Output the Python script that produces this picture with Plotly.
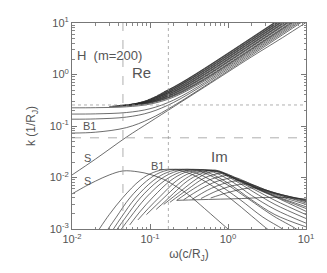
import plotly.graph_objects as go

# ---------------- data ----------------
# Real part. Low branches span the full range on a common frequency grid.
re_omega = [0.01, 0.02, 0.05, 0.1, 0.2, 0.5, 1, 2, 5, 10]
re_S  = [0.0112, 0.0228, 0.061, 0.12, 0.235, 0.57, 1.12, 2.2, 5.2, 10.2]
re_B1 = [0.073, 0.0758, 0.0931, 0.1382, 0.2468, 0.5944, 1.182, 2.36, 5.9, 11.8]
re_2  = [0.1356, 0.1373, 0.149, 0.1847, 0.2859, 0.6443, 1.267, 2.524, 6.3, 12.6]
re_3  = [0.1705, 0.1721, 0.1827, 0.2165, 0.3174, 0.6912, 1.351, 2.686, 6.7, 13.4]
re_4  = [0.2255, 0.2268, 0.2359, 0.2661, 0.3623, 0.7448, 1.4377, 2.85, 7.1, 14.2]

# Higher branches emerge part-way along the frequency axis
re_5_w   = [0.03, 0.05, 0.1, 0.2, 0.5, 1, 2, 5, 10]
re_5_k   = [0.2393, 0.2467, 0.2788, 0.3811, 0.786, 1.518, 3.01, 7.5, 15]
re_5b_w  = [0.033, 0.05, 0.1, 0.2, 0.5, 1, 2, 5, 10]
re_5b_k  = [0.2434, 0.2503, 0.284, 0.3908, 0.8107, 1.568, 3.108, 7.75, 15.5]
re_6_w   = [0.036, 0.05, 0.1, 0.2, 0.5, 1, 2, 5, 10]
re_6_k   = [0.2468, 0.253, 0.2884, 0.4, 0.8352, 1.618, 3.21, 8.0, 16]
re_7_w   = [0.04, 0.1, 0.2, 0.5, 1, 2, 5, 10]
re_7_k   = [0.2494, 0.2941, 0.4162, 0.8832, 1.7169, 3.41, 8.5, 17]
re_7b_w  = [0.044, 0.1, 0.2, 0.5, 1, 2, 5, 10]
re_7b_k  = [0.252, 0.297, 0.4244, 0.9073, 1.766, 3.508, 8.75, 17.5]
re_8_w   = [0.048, 0.1, 0.2, 0.5, 1, 2, 5, 10]
re_8_k   = [0.2551, 0.3, 0.4327, 0.9315, 1.816, 3.61, 9.0, 18]
re_9_w   = [0.053, 0.1, 0.2, 0.5, 1, 2, 5, 10]
re_9_k   = [0.2603, 0.3061, 0.4494, 0.9798, 1.914, 3.81, 9.5, 19]
re_9b_w  = [0.058, 0.1, 0.2, 0.5, 1, 2, 5, 10]
re_9b_k  = [0.2653, 0.3092, 0.4579, 1.0041, 1.9642, 3.907, 9.75, 19.5]
re_10_w  = [0.064, 0.1, 0.2, 0.5, 1, 2, 5, 10]
re_10_k  = [0.272, 0.3124, 0.4665, 1.0284, 2.014, 4.007, 10.0, 20]
re_11_w  = [0.07, 0.1, 0.2, 0.5, 1, 2, 5, 10]
re_11_k  = [0.2814, 0.3189, 0.4837, 1.0771, 2.1134, 4.207, 10.5, 21]
re_11b_w = [0.077, 0.1, 0.2, 0.5, 1, 2, 5, 10]
re_11b_k = [0.2916, 0.3222, 0.4924, 1.1015, 2.1634, 4.307, 10.75, 21.5]
re_12_w  = [0.085, 0.14, 0.2, 0.5, 1, 2, 5, 10]
re_12_k  = [0.3043, 0.3905, 0.5012, 1.1259, 2.213, 4.407, 11.0, 22]
re_13_w  = [0.094, 0.14, 0.2, 0.5, 1, 2, 5, 10]
re_13_k  = [0.323, 0.4016, 0.5188, 1.1748, 2.3127, 4.606, 11.5, 23]
re_13b_w = [0.103, 0.15, 0.2, 0.5, 1, 2, 5, 10]
re_13b_k = [0.3409, 0.4264, 0.5277, 1.1993, 2.3625, 4.706, 11.75, 23.5]
re_14_w  = [0.113, 0.16, 0.25, 0.5, 1, 2, 5, 10]
re_14_k  = [0.3621, 0.4528, 0.6462, 1.2238, 2.4124, 4.806, 12.0, 24]
re_15_w  = [0.124, 0.17, 0.25, 0.5, 1, 2, 5, 10]
re_15_k  = [0.392, 0.4881, 0.6695, 1.2728, 2.512, 5.006, 12.5, 25]
re_15b_w = [0.137, 0.18, 0.26, 0.5, 1, 2, 5, 10]
re_15b_k = [0.4238, 0.518, 0.7051, 1.2974, 2.562, 5.106, 12.75, 25.5]
re_16_w  = [0.15, 0.2, 0.3, 0.5, 1, 2, 5, 10]
re_16_k  = [0.4579, 0.5727, 0.8161, 1.322, 2.6118, 5.206, 13.0, 26]

# Imaginary part: each branch has its own frequency samples
im_S_w  = [0.01, 0.015, 0.02, 0.03, 0.045, 0.07, 0.1, 0.15, 0.2, 0.3, 0.5, 0.7, 1.0, 1.2]
im_S_k  = [0.0048, 0.0068, 0.0085, 0.0112, 0.0134, 0.0129, 0.0115, 0.0092, 0.0072, 0.0048, 0.0025, 0.0016, 0.001, 0.0008]
im_B1_w = [0.0224, 0.03, 0.045, 0.075, 0.11, 0.17, 0.3, 0.55, 1.1, 2.0, 3.2, 4.0]
im_B1_k = [0.001, 0.0019, 0.0041, 0.0089, 0.0125, 0.0145, 0.0125, 0.0078, 0.0038, 0.0018, 0.001, 0.0008]
im_2_w  = [0.029, 0.037, 0.055, 0.09, 0.135, 0.21, 0.37, 0.7, 1.4, 2.8, 5.0, 6.0]
im_2_k  = [0.001, 0.0017, 0.004, 0.0085, 0.0125, 0.0145, 0.0126, 0.0078, 0.0038, 0.0017, 0.001, 0.0008]
im_3_w  = [0.034, 0.043, 0.065, 0.11, 0.165, 0.26, 0.46, 0.9, 1.8, 3.8, 7.5, 9.0]
im_3_k  = [0.001, 0.0017, 0.004, 0.0087, 0.0125, 0.0145, 0.0127, 0.0078, 0.0039, 0.0018, 0.001, 0.0008]
im_4_w  = [0.038, 0.049, 0.075, 0.13, 0.2, 0.31, 0.55, 1.0, 2.0, 4.0, 10]
im_4_k  = [0.001, 0.0017, 0.004, 0.0088, 0.0126, 0.0145, 0.0125, 0.0078, 0.0037, 0.0019, 0.0011]
im_5_w  = [0.043, 0.056, 0.088, 0.155, 0.24, 0.37, 0.65, 1.1, 2.0, 4.0, 10]
im_5_k  = [0.001, 0.0017, 0.004, 0.0088, 0.0126, 0.0144, 0.0127, 0.0085, 0.0045, 0.0024, 0.0013]
im_6_w  = [0.055, 0.075, 0.11, 0.185, 0.28, 0.44, 0.75, 1.2, 2.1, 4.0, 10]
im_6_k  = [0.0012, 0.0022, 0.0042, 0.0088, 0.0125, 0.0143, 0.0126, 0.0089, 0.0053, 0.003, 0.0016]
im_7_w  = [0.07, 0.095, 0.135, 0.22, 0.33, 0.52, 0.85, 1.3, 2.2, 4.0, 10]
im_7_k  = [0.0015, 0.0025, 0.0043, 0.0087, 0.0123, 0.0141, 0.0124, 0.0088, 0.0058, 0.0036, 0.0019]
im_8_w  = [0.09, 0.12, 0.165, 0.26, 0.38, 0.6, 0.95, 1.4, 2.3, 4.0, 10]
im_8_k  = [0.0019, 0.0029, 0.0046, 0.0086, 0.012, 0.0138, 0.0115, 0.0086, 0.006, 0.0042, 0.0022]
im_9_w  = [0.12, 0.155, 0.2, 0.3, 0.44, 0.68, 1.0, 1.5, 2.4, 4.0, 10]
im_9_k  = [0.0024, 0.0034, 0.0049, 0.0085, 0.0117, 0.014, 0.0108, 0.0083, 0.006, 0.0043, 0.0025]
im_10_w = [0.15, 0.25, 0.4, 0.55, 0.78, 1.1, 1.6, 2.5, 4.0, 10]
im_10_k = [0.003, 0.0055, 0.0095, 0.0122, 0.0133, 0.0102, 0.008, 0.0059, 0.0044, 0.0027]
im_11_w = [0.18, 0.3, 0.48, 0.65, 0.9, 1.25, 1.8, 2.7, 4.2, 10]
im_11_k = [0.0033, 0.0058, 0.0095, 0.0113, 0.0122, 0.0097, 0.0075, 0.0057, 0.0045, 0.003]
im_12_w = [0.22, 0.36, 0.58, 0.78, 1.05, 1.4, 2.0, 3.0, 4.5, 10]
im_12_k = [0.0036, 0.006, 0.009, 0.0103, 0.011, 0.0091, 0.0071, 0.0055, 0.0046, 0.0032]
im_13_w = [0.27, 0.45, 0.7, 0.95, 1.25, 1.65, 2.2, 3.2, 5.0, 10]
im_13_k = [0.0037, 0.006, 0.0083, 0.0094, 0.0099, 0.0084, 0.0068, 0.0054, 0.0044, 0.0034]
im_14_w = [0.35, 0.55, 0.85, 1.15, 1.5, 1.9, 2.6, 3.5, 5.5, 10]
im_14_k = [0.0038, 0.0057, 0.0075, 0.0084, 0.0087, 0.0077, 0.0063, 0.0053, 0.0044, 0.0035]
im_15_w = [0.45, 0.7, 1.05, 1.4, 1.8, 2.3, 3.0, 4.0, 6.0, 10]
im_15_k = [0.0039, 0.0054, 0.0067, 0.0073, 0.0075, 0.0068, 0.0058, 0.005, 0.0043, 0.0036]
im_16_w = [0.6, 0.95, 1.4, 1.8, 2.2, 2.8, 3.6, 5.0, 7.0, 10]
im_16_k = [0.004, 0.005, 0.0058, 0.0062, 0.0063, 0.0059, 0.0053, 0.0046, 0.0041, 0.0037]
im_shelf_w = [0.22, 0.4, 0.8, 1.5, 3.0, 5.0, 7.0, 10]
im_shelf_k = [0.0036, 0.0037, 0.0038, 0.0039, 0.0041, 0.0041, 0.004, 0.0038]

# reference lines
omega_dashed = 0.045
omega_dotted = 0.172
k_dotted = 0.256
k_dashed = 0.059
x_limits = [0.01, 10]
y_limits = [0.001, 10]

# tick labels
x_tickvals = [0.01, 0.1, 1, 10]
x_ticktext = ["10<sup>-2</sup>", "10<sup>-1</sup>", "10<sup>0</sup>", "10<sup>1</sup>"]
y_tickvals = [0.001, 0.01, 0.1, 1, 10]
y_ticktext = ["10<sup>-3</sup>", "10<sup>-2</sup>", "10<sup>-1</sup>", "10<sup>0</sup>", "10<sup>1</sup>"]

# ---------------- figure ----------------
fig = go.Figure()
curve_color = "rgba(40,40,40,0.85)"
lw = 0.8

def add_curve(ww, kk):
    fig.add_trace(go.Scatter(x=ww, y=kk, mode="lines",
                             line=dict(color=curve_color, width=lw, shape="spline", smoothing=1.0),
                             showlegend=False, hoverinfo="skip"))

for kk in [re_S, re_B1, re_2, re_3, re_4]:
    add_curve(re_omega, kk)

re_upper = [(re_5_w, re_5_k), (re_5b_w, re_5b_k), (re_6_w, re_6_k), (re_7_w, re_7_k),
            (re_7b_w, re_7b_k), (re_8_w, re_8_k), (re_9_w, re_9_k), (re_9b_w, re_9b_k),
            (re_10_w, re_10_k), (re_11_w, re_11_k), (re_11b_w, re_11b_k), (re_12_w, re_12_k),
            (re_13_w, re_13_k), (re_13b_w, re_13b_k), (re_14_w, re_14_k), (re_15_w, re_15_k),
            (re_15b_w, re_15b_k), (re_16_w, re_16_k)]
for ww, kk in re_upper:
    add_curve(ww, kk)

im_curves = [(im_S_w, im_S_k), (im_B1_w, im_B1_k), (im_2_w, im_2_k), (im_3_w, im_3_k),
             (im_4_w, im_4_k), (im_5_w, im_5_k), (im_6_w, im_6_k), (im_7_w, im_7_k),
             (im_8_w, im_8_k), (im_9_w, im_9_k), (im_10_w, im_10_k), (im_11_w, im_11_k),
             (im_12_w, im_12_k), (im_13_w, im_13_k), (im_14_w, im_14_k), (im_15_w, im_15_k),
             (im_16_w, im_16_k), (im_shelf_w, im_shelf_k)]
for ww, kk in im_curves:
    add_curve(ww, kk)

ref_color = "#9a9a9a"
def add_ref(xx, yy, dash):
    fig.add_trace(go.Scatter(x=xx, y=yy, mode="lines",
                             line=dict(color=ref_color, width=0.8, dash=dash),
                             showlegend=False, hoverinfo="skip"))

add_ref([omega_dashed, omega_dashed], y_limits, "dash")
add_ref([omega_dotted, omega_dotted], y_limits, "dot")
add_ref(x_limits, [k_dotted, k_dotted], "dot")
add_ref(x_limits, [k_dashed, k_dashed], "dash")

font_family = "Liberation Sans, Arial, sans-serif"
text_color = "#555555"
axis_common = dict(type="log", showgrid=False, zeroline=False, showline=True, automargin=False,
                   linecolor="#777777", linewidth=1, mirror="ticks",
                   ticks="inside", ticklen=5, tickcolor="#777777", tickwidth=1,
                   minor=dict(ticks="inside", ticklen=2.5, tickcolor="#888888", dtick="D1", showgrid=False),
                   tickfont=dict(family=font_family, size=11, color=text_color))

fig.update_xaxes(range=[-2, 1], tickvals=x_tickvals, ticktext=x_ticktext,
                 title=dict(text="ω(c/R<sub>J</sub>)", font=dict(family=font_family, size=12, color=text_color),
                            standoff=5),
                 **axis_common)
fig.update_yaxes(range=[-3, 1], tickvals=y_tickvals, ticktext=y_ticktext,
                 title=dict(text="k (1/R<sub>J</sub>)", font=dict(family=font_family, size=12, color=text_color),
                            standoff=11),
                 **axis_common)

# The page body has an 8 px margin, so the figure is 8 px smaller on each side
def ann(text, px, py, size):
    # px, py: pixel positions in the 327x273 page
    fig.add_annotation(text=text, x=(px - 72) / 234, y=(229 - py) / 206, xref="paper", yref="paper",
                       showarrow=False, font=dict(family=font_family, size=size, color=text_color),
                       xanchor="center", yanchor="middle")

ann("H  (m=200)", 109, 55, 13)
ann("Re", 141, 72, 15)
ann("Im", 219, 156, 15)
ann("B1", 89, 126, 11)
ann("B1", 157, 166, 11)
ann("S", 87, 158, 11)
ann("S", 87, 181, 11)

fig.update_layout(width=319, height=265, margin=dict(l=64, r=21, t=15, b=44),
                  paper_bgcolor="white", plot_bgcolor="white", showlegend=False)

fig.write_html("out.html")
